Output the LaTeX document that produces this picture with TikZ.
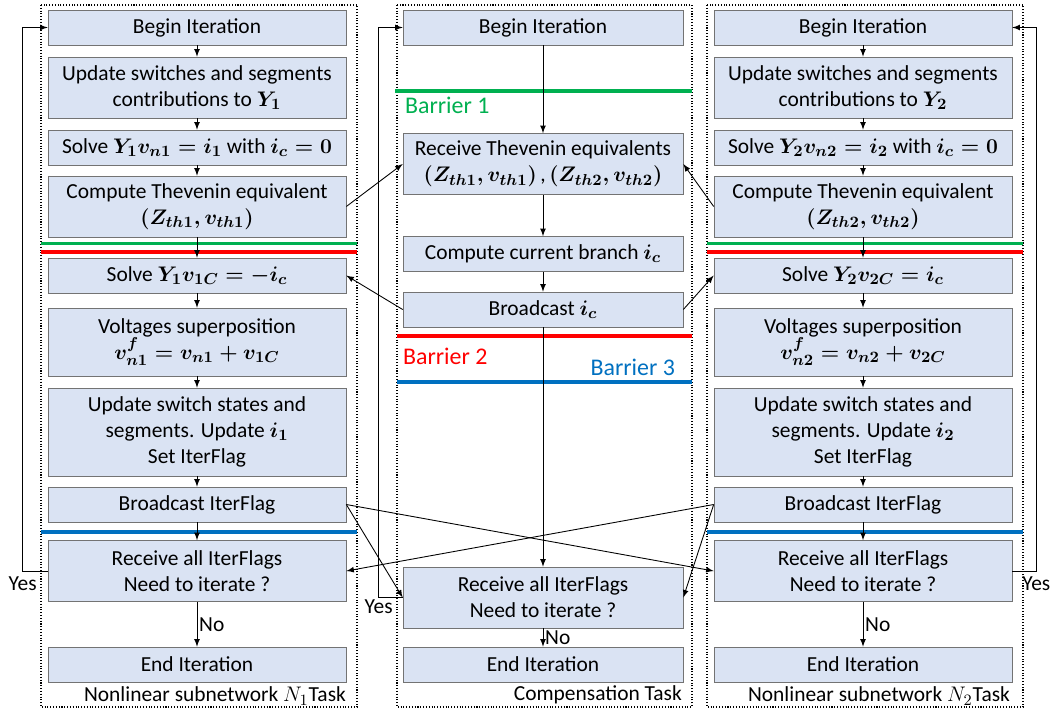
\documentclass[tikz,border=0pt]{standalone}
\usepackage[no-math]{fontspec}
\setmainfont{Carlito}
\usepackage{amsmath}
\usepackage{amssymb}
\usepackage{tikz}
\usetikzlibrary{calc,arrows,positioning}

\definecolor{boxfill}{RGB}{218,227,243}
\definecolor{boxline}{RGB}{115,115,115}
\definecolor{barriergreen}{RGB}{0,176,80}
\definecolor{barrierred}{RGB}{255,0,0}
\definecolor{barrierblue}{RGB}{0,112,192}
\newcommand{\bmath}[1]{\mbox{\boldmath$#1$}}

\tikzset{%
    one_line/.style={%
        rectangle, draw=boxline, fill=boxfill, minimum width=5.96cm, minimum height=0.7cm, text centered, align=center, inner sep=1pt, font=\fontsize{12.2}{14.8}\selectfont
    },
    two_line/.style={%
        one_line, minimum height=1.22cm
    },
    three_line/.style={%
        one_line, minimum height=1.76cm
    },
    comp_box/.style={%
        minimum width=5.6cm
    },
    task_frame/.style={%
        draw, densely dotted, line width=0.6pt
    },
    barrier/.style={%
        line width=2.2pt
    },
    flow/.style={%
        ->, >=latex, line width=0.5pt
    },
    txt/.style={%
        font=\fontsize{12.2}{14.8}\selectfont, inner sep=1pt
    },
    barrier_label/.style={%
        font=\fontsize{13.6}{16}\selectfont, inner sep=1pt
    },
}

\begin{document}
\begin{tikzpicture}[x=0.02cm, y=-0.02cm]
    \useasboundingbox (0,0) rectangle (1057,711);

    % task frames
    \draw[task_frame] (41,5) rectangle (357,707);
    \draw[task_frame] (397,5) rectangle (692,707);
    \draw[task_frame] (707,5) rectangle (1023,707);

    % barriers
    \foreach \xa/\xb in {41/357, 707/1023} {
        \draw[barrier, barriergreen] (\xa,243.5) -- (\xb,243.5);
        \draw[barrier, barrierred] (\xa,252) -- (\xb,252);
        \draw[barrier, barrierblue] (\xa,532) -- (\xb,532);
    }
    \draw[barrier, barriergreen] (395,91) -- (692,91);
    \draw[barrier, barrierred] (397,336) -- (692,336);
    \draw[barrier, barrierblue] (397,382) -- (692,382);
    \node[barrier_label, text=barriergreen, anchor=west] (barrier_one) at (403,105) {Barrier 1};
    \node[barrier_label, text=barrierred, anchor=west] (barrier_two) at (401,356) {Barrier 2};
    \node[barrier_label, text=barrierblue, anchor=east] (barrier_three) at (677,367) {Barrier 3};

    % nonlinear subnetwork tasks
    \foreach \side/\cx/\idx/\sgn in {left/197/1/-, right/863/2/{}} {
        \node[one_line] (\side-begin) at (\cx,27.5) {Begin Iteration};
        \node[two_line] (\side-contrib) at (\cx,87.5) {Update switches and segments\\contributions to \bmath{Y_\idx}};
        \node[one_line] (\side-solve) at (\cx,147.5) {Solve \bmath{Y_\idx v_{n\idx} = i_\idx} with \bmath{i_c = 0}};
        \node[two_line] (\side-thev) at (\cx,206.5) {Compute Thevenin equivalent\\\bmath{(Z_{th\idx}, v_{th\idx})}};
        \node[one_line] (\side-solvec) at (\cx,275.5) {Solve \bmath{Y_\idx v_{\idx C} = \sgn i_c}};
        \node[two_line, minimum height=1.36cm] (\side-super) at (\cx,342) {Voltages superposition\\\bmath{v^f_{n\idx} = v_{n\idx} + v_{\idx C}}};
        \node[three_line] (\side-state) at (\cx,432) {Update switch states and\\segments. Update \bmath{i_\idx}\\Set IterFlag};
        \node[one_line] (\side-flag) at (\cx,504.5) {Broadcast IterFlag};
        \node[two_line] (\side-recv) at (\cx,571) {Receive all IterFlags\\Need to iterate ?};
        \node[one_line] (\side-end) at (\cx,664.5) {End Iteration};

        \foreach \a/\b in {begin/contrib, contrib/solve, solve/thev, thev/solvec, solvec/super, super/state, state/flag, flag/recv}
            \draw[flow] (\side-\a) -- (\side-\b);
        \draw[flow] (\side-recv) -- node[txt, right] {No} (\side-end);
    }
    \node[txt, anchor=east] (left_task) at (348,696) {Nonlinear subnetwork $N_1$Task};
    \node[txt, anchor=east] (right_task) at (1012,696) {Nonlinear subnetwork $N_2$Task};

    % compensation task
    \node[one_line, comp_box] (comp_begin) at (543,27.5) {Begin Iteration};
    \node[two_line, comp_box] (comp_thev) at (543,164) {Receive Thevenin equivalents\\\bmath{(Z_{th1}, v_{th1})}\,,\,\bmath{(Z_{th2}, v_{th2})}};
    \node[one_line, comp_box] (comp_branch) at (543,254) {Compute current branch \bmath{i_c}};
    \node[one_line, comp_box] (comp_bcast) at (543,309.5) {Broadcast \bmath{i_c}};
    \node[two_line, comp_box] (comp_recv) at (543,597.5) {Receive all IterFlags\\Need to iterate ?};
    \node[one_line, comp_box] (comp_end) at (543,664.5) {End Iteration};
    \node[txt, anchor=east] (comp_task) at (684,695) {Compensation Task};

    \draw[flow] (comp_begin) -- (comp_thev);
    \draw[flow] (comp_thev) -- (comp_branch);
    \draw[flow] (comp_branch) -- (comp_bcast);
    \draw[flow] (comp_bcast) -- (comp_recv);
    \draw[flow] (comp_recv) -- node[txt, right] {No} (comp_end);

    % exchanges between tasks
    \draw[flow] (left-thev.east) -- (comp_thev.west);
    \draw[flow] (right-thev.west) -- (comp_thev.east);
    \draw[flow] (comp_bcast.west) -- (left-solvec.east);
    \draw[flow] (comp_bcast.east) -- (right-solvec.west);
    \draw[flow] (left-flag.east) -- (right-recv.west);
    \draw[flow] (left-flag.east) -- (comp_recv.west);
    \draw[flow] (right-flag.west) -- (left-recv.east);
    \draw[flow] (right-flag.west) -- (comp_recv.east);

    % iterate again
    \draw[flow] (left-recv.west) -- ++(-25,0) node[txt, below, yshift=-2pt] {Yes} |- (left-begin.west);
    \draw[flow] (comp_recv.west) -- ++(-24,0) node[txt, below] {Yes} |- (comp_begin.west);
    \draw[flow] (right-recv.east) -- ++(24,0) node[txt, below, yshift=-2pt] {Yes} |- (right-begin.east);
\end{tikzpicture}
\end{document}
